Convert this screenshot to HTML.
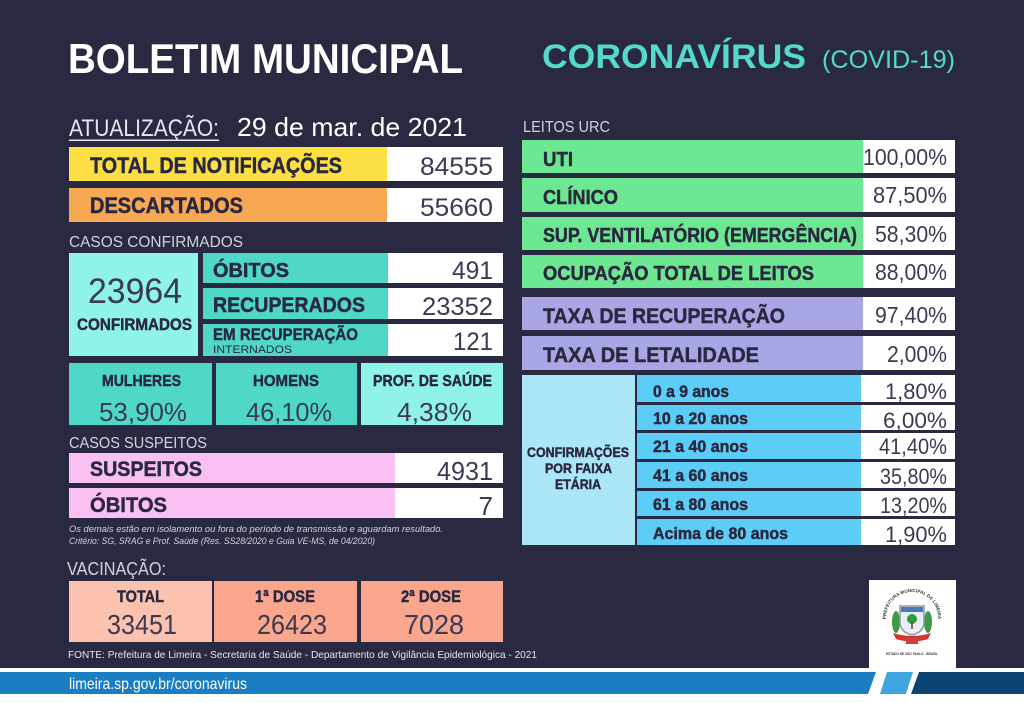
<!DOCTYPE html>
<html><head><meta charset="utf-8">
<style>html,body{margin:0;padding:0;background:#fff}svg{display:block}
.b{stroke:#29283f;stroke-width:0.45;paint-order:stroke}</style>
</head><body>
<svg width="1024" height="703" viewBox="0 0 1024 703" xmlns="http://www.w3.org/2000/svg" font-family="'Liberation Sans', sans-serif">
<rect width="1024" height="703" fill="#ffffff"/>
<rect width="1024" height="668" fill="#2a2942"/>

<!-- Header -->
<text x="68" y="73" font-size="42" font-weight="bold" fill="#ffffff" textLength="395" lengthAdjust="spacingAndGlyphs">BOLETIM MUNICIPAL</text>
<text x="542" y="68" font-size="34" font-weight="bold" fill="#55d9cb" textLength="264" lengthAdjust="spacingAndGlyphs">CORONAVÍRUS</text>
<text x="822" y="68" font-size="25" fill="#55d9cb" textLength="133" lengthAdjust="spacingAndGlyphs">(COVID-19)</text>

<!-- Atualização -->
<text x="69" y="136" font-size="24" fill="#e6e6ee" textLength="150" lengthAdjust="spacingAndGlyphs">ATUALIZAÇÃO:</text>
<rect x="69" y="139.5" width="150" height="1.5" fill="#e6e6ee"/>
<text x="237" y="136" font-size="26" fill="#ffffff" textLength="230" lengthAdjust="spacingAndGlyphs">29 de mar. de 2021</text>

<!-- Total / Descartados -->
<rect x="69" y="147" width="318" height="34" fill="#fcdf42"/>
<rect x="387" y="147" width="116" height="34" fill="#ffffff"/>
<text class="b" x="90" y="173" font-size="22" font-weight="bold" fill="#29283f" textLength="252" lengthAdjust="spacingAndGlyphs">TOTAL DE NOTIFICAÇÕES</text>
<text x="420" y="175" font-size="25" fill="#3a3a52" textLength="73" lengthAdjust="spacingAndGlyphs">84555</text>

<rect x="69" y="188" width="318" height="34" fill="#f8a853"/>
<rect x="387" y="188" width="116" height="34" fill="#ffffff"/>
<text class="b" x="90" y="213" font-size="22" font-weight="bold" fill="#29283f" textLength="153" lengthAdjust="spacingAndGlyphs">DESCARTADOS</text>
<text x="420" y="216" font-size="25" fill="#3a3a52" textLength="73" lengthAdjust="spacingAndGlyphs">55660</text>

<!-- Casos confirmados -->
<text x="69" y="247" font-size="16" fill="#d2d2dc" textLength="174" lengthAdjust="spacingAndGlyphs">CASOS CONFIRMADOS</text>
<rect x="69" y="253" width="129" height="103" fill="#8ff3ea"/>
<text x="88" y="303" font-size="35" fill="#3a3a52" textLength="94" lengthAdjust="spacingAndGlyphs">23964</text>
<text class="b" x="77" y="330" font-size="16.5" font-weight="bold" fill="#29283f" textLength="115" lengthAdjust="spacingAndGlyphs">CONFIRMADOS</text>

<rect x="203" y="253" width="185" height="30" fill="#4fd8c8"/>
<rect x="388" y="253" width="115" height="30" fill="#ffffff"/>
<text class="b" x="213" y="277" font-size="20" font-weight="bold" fill="#29283f" textLength="76" lengthAdjust="spacingAndGlyphs">ÓBITOS</text>
<text x="452" y="279" font-size="25" fill="#3a3a52" textLength="41" lengthAdjust="spacingAndGlyphs">491</text>

<rect x="203" y="288" width="185" height="31" fill="#4fd8c8"/>
<rect x="388" y="288" width="115" height="31" fill="#ffffff"/>
<text class="b" x="213" y="312" font-size="21" font-weight="bold" fill="#29283f" textLength="152" lengthAdjust="spacingAndGlyphs">RECUPERADOS</text>
<text x="422" y="315" font-size="25" fill="#3a3a52" textLength="71" lengthAdjust="spacingAndGlyphs">23352</text>

<rect x="203" y="324" width="185" height="32" fill="#4fd8c8"/>
<rect x="388" y="324" width="115" height="32" fill="#ffffff"/>
<text class="b" x="213" y="340" font-size="17" font-weight="bold" fill="#29283f" textLength="145" lengthAdjust="spacingAndGlyphs">EM RECUPERAÇÃO</text>
<text x="213" y="353" font-size="11" fill="#29283f" textLength="79" lengthAdjust="spacingAndGlyphs">INTERNADOS</text>
<text x="453" y="350" font-size="25" fill="#3a3a52" textLength="40" lengthAdjust="spacingAndGlyphs">121</text>

<!-- Gender / prof -->
<rect x="69" y="363" width="143" height="62" fill="#4fd8c8"/>
<rect x="216" y="363" width="141" height="62" fill="#4fd8c8"/>
<rect x="361" y="363" width="142" height="62" fill="#8ff3ea"/>
<text class="b" x="102" y="386" font-size="16" font-weight="bold" fill="#29283f" textLength="79" lengthAdjust="spacingAndGlyphs">MULHERES</text>
<text class="b" x="253" y="386" font-size="16" font-weight="bold" fill="#29283f" textLength="66" lengthAdjust="spacingAndGlyphs">HOMENS</text>
<text class="b" x="373" y="386" font-size="16" font-weight="bold" fill="#29283f" textLength="119" lengthAdjust="spacingAndGlyphs">PROF. DE SAÚDE</text>
<text x="99" y="421" font-size="26" fill="#3a3a52" textLength="88" lengthAdjust="spacingAndGlyphs">53,90%</text>
<text x="246" y="421" font-size="26" fill="#3a3a52" textLength="86" lengthAdjust="spacingAndGlyphs">46,10%</text>
<text x="397" y="421" font-size="26" fill="#3a3a52" textLength="75" lengthAdjust="spacingAndGlyphs">4,38%</text>

<!-- Casos suspeitos -->
<text x="69" y="448" font-size="16" fill="#d2d2dc" textLength="138" lengthAdjust="spacingAndGlyphs">CASOS SUSPEITOS</text>
<rect x="69" y="453" width="326" height="30" fill="#fbc0f3"/>
<rect x="395" y="453" width="108" height="30" fill="#ffffff"/>
<text class="b" x="90" y="476" font-size="21" font-weight="bold" fill="#29283f" textLength="112" lengthAdjust="spacingAndGlyphs">SUSPEITOS</text>
<text x="437" y="480" font-size="26" fill="#3a3a52" textLength="56" lengthAdjust="spacingAndGlyphs">4931</text>

<rect x="69" y="488" width="326" height="30" fill="#fbc0f3"/>
<rect x="395" y="488" width="108" height="30" fill="#ffffff"/>
<text class="b" x="90" y="512" font-size="21" font-weight="bold" fill="#29283f" textLength="77" lengthAdjust="spacingAndGlyphs">ÓBITOS</text>
<text x="493" y="515" font-size="26" fill="#3a3a52" text-anchor="end">7</text>

<text x="69" y="532" font-size="9.5" font-style="italic" fill="#d2d2dc" textLength="374" lengthAdjust="spacingAndGlyphs">Os demais estão em isolamento ou fora do período de transmissão e aguardam resultado.</text>
<text x="69" y="544" font-size="9.5" font-style="italic" fill="#d2d2dc" textLength="306" lengthAdjust="spacingAndGlyphs">Critério: SG, SRAG e Prof. Saúde (Res. SS28/2020 e Guia VE-MS, de 04/2020)</text>

<!-- Vacinação -->
<text x="67" y="575" font-size="18" fill="#d2d2dc" textLength="99" lengthAdjust="spacingAndGlyphs">VACINAÇÃO:</text>
<rect x="69" y="581" width="143" height="61" fill="#fcc2b0"/>
<rect x="214" y="581" width="143" height="61" fill="#f9a68d"/>
<rect x="361" y="581" width="142" height="61" fill="#f9a68d"/>
<text class="b" x="117" y="602" font-size="16.5" font-weight="bold" fill="#29283f" textLength="47" lengthAdjust="spacingAndGlyphs">TOTAL</text>
<text class="b" x="255" y="602" font-size="16.5" font-weight="bold" fill="#29283f" textLength="60" lengthAdjust="spacingAndGlyphs">1ª DOSE</text>
<text class="b" x="401" y="602" font-size="16.5" font-weight="bold" fill="#29283f" textLength="60" lengthAdjust="spacingAndGlyphs">2ª DOSE</text>
<text x="107" y="634" font-size="28" fill="#3a3a52" textLength="70" lengthAdjust="spacingAndGlyphs">33451</text>
<text x="257" y="634" font-size="28" fill="#3a3a52" textLength="70" lengthAdjust="spacingAndGlyphs">26423</text>
<text x="404" y="634" font-size="28" fill="#3a3a52" textLength="60" lengthAdjust="spacingAndGlyphs">7028</text>

<text x="68" y="658" font-size="10.5" fill="#e6e6ee" textLength="469" lengthAdjust="spacingAndGlyphs">FONTE: Prefeitura de Limeira - Secretaria de Saúde - Departamento de Vigilância Epidemiológica - 2021</text>

<!-- Right column: Leitos -->
<text x="523" y="132" font-size="16" fill="#d2d2dc" textLength="87" lengthAdjust="spacingAndGlyphs">LEITOS URC</text>

<rect x="522" y="140" width="341" height="33" fill="#6ee792"/>
<rect x="863" y="140" width="92" height="33" fill="#ffffff"/>
<text class="b" x="543" y="166" font-size="20" font-weight="bold" fill="#29283f" textLength="30" lengthAdjust="spacingAndGlyphs">UTI</text>
<text x="863" y="165" font-size="23" fill="#3a3a52" textLength="84" lengthAdjust="spacingAndGlyphs">100,00%</text>

<rect x="522" y="178" width="341" height="34" fill="#6ee792"/>
<rect x="863" y="178" width="92" height="34" fill="#ffffff"/>
<text class="b" x="543" y="204" font-size="20" font-weight="bold" fill="#29283f" textLength="75" lengthAdjust="spacingAndGlyphs">CLÍNICO</text>
<text x="873" y="203" font-size="23" fill="#3a3a52" textLength="74" lengthAdjust="spacingAndGlyphs">87,50%</text>

<rect x="522" y="217" width="341" height="33" fill="#6ee792"/>
<rect x="863" y="217" width="92" height="33" fill="#ffffff"/>
<text class="b" x="543" y="242" font-size="20" font-weight="bold" fill="#29283f" textLength="314" lengthAdjust="spacingAndGlyphs">SUP. VENTILATÓRIO (EMERGÊNCIA)</text>
<text x="875" y="242" font-size="23" fill="#3a3a52" textLength="72" lengthAdjust="spacingAndGlyphs">58,30%</text>

<rect x="522" y="255" width="341" height="33" fill="#6ee792"/>
<rect x="863" y="255" width="92" height="33" fill="#ffffff"/>
<text class="b" x="543" y="280" font-size="20" font-weight="bold" fill="#29283f" textLength="271" lengthAdjust="spacingAndGlyphs">OCUPAÇÃO TOTAL DE LEITOS</text>
<text x="875" y="280" font-size="23" fill="#3a3a52" textLength="72" lengthAdjust="spacingAndGlyphs">88,00%</text>

<rect x="522" y="297" width="341" height="33" fill="#a9a6e6"/>
<rect x="863" y="297" width="92" height="33" fill="#ffffff"/>
<text class="b" x="543" y="323" font-size="21" font-weight="bold" fill="#29283f" textLength="242" lengthAdjust="spacingAndGlyphs">TAXA DE RECUPERAÇÃO</text>
<text x="875" y="323" font-size="23" fill="#3a3a52" textLength="72" lengthAdjust="spacingAndGlyphs">97,40%</text>

<rect x="522" y="336" width="341" height="34" fill="#a9a6e6"/>
<rect x="863" y="336" width="92" height="34" fill="#ffffff"/>
<text class="b" x="543" y="362" font-size="21" font-weight="bold" fill="#29283f" textLength="216" lengthAdjust="spacingAndGlyphs">TAXA DE LETALIDADE</text>
<text x="887" y="362" font-size="23" fill="#3a3a52" textLength="60" lengthAdjust="spacingAndGlyphs">2,00%</text>

<!-- Faixa etária -->
<rect x="522" y="375" width="113" height="170" fill="#aae6f6"/>
<text class="b" x="527" y="457" font-size="13.5" font-weight="bold" fill="#29283f" textLength="102" lengthAdjust="spacingAndGlyphs">CONFIRMAÇÕES</text>
<text class="b" x="545" y="473" font-size="13.5" font-weight="bold" fill="#29283f" textLength="67" lengthAdjust="spacingAndGlyphs">POR FAIXA</text>
<text class="b" x="555" y="489" font-size="13.5" font-weight="bold" fill="#29283f" textLength="46" lengthAdjust="spacingAndGlyphs">ETÁRIA</text>

<rect x="637" y="375" width="224" height="27" fill="#5ccdf6"/>
<rect x="861" y="375" width="94" height="27" fill="#ffffff"/>
<rect x="637" y="405" width="224" height="25" fill="#5ccdf6"/>
<rect x="861" y="405" width="94" height="25" fill="#ffffff"/>
<rect x="637" y="433" width="224" height="26" fill="#5ccdf6"/>
<rect x="861" y="433" width="94" height="26" fill="#ffffff"/>
<rect x="637" y="462" width="224" height="26" fill="#5ccdf6"/>
<rect x="861" y="462" width="94" height="26" fill="#ffffff"/>
<rect x="637" y="491" width="224" height="25" fill="#5ccdf6"/>
<rect x="861" y="491" width="94" height="25" fill="#ffffff"/>
<rect x="637" y="519" width="224" height="26" fill="#5ccdf6"/>
<rect x="861" y="519" width="94" height="26" fill="#ffffff"/>

<g font-size="16.5" font-weight="bold" fill="#29283f">
<text class="b" x="653" y="397" textLength="76" lengthAdjust="spacingAndGlyphs">0 a 9 anos</text>
<text class="b" x="653" y="424" textLength="95" lengthAdjust="spacingAndGlyphs">10 a 20 anos</text>
<text class="b" x="653" y="452" textLength="95" lengthAdjust="spacingAndGlyphs">21 a 40 anos</text>
<text class="b" x="653" y="481" textLength="95" lengthAdjust="spacingAndGlyphs">41 a 60 anos</text>
<text class="b" x="653" y="510" textLength="95" lengthAdjust="spacingAndGlyphs">61 a 80 anos</text>
<text class="b" x="653" y="539" textLength="135" lengthAdjust="spacingAndGlyphs">Acima de 80 anos</text>
</g>
<g font-size="22" fill="#3a3a52">
<text x="885" y="399" textLength="62" lengthAdjust="spacingAndGlyphs">1,80%</text>
<text x="883" y="428" textLength="64" lengthAdjust="spacingAndGlyphs">6,00%</text>
<text x="879" y="454" textLength="68" lengthAdjust="spacingAndGlyphs">41,40%</text>
<text x="880" y="484" textLength="67" lengthAdjust="spacingAndGlyphs">35,80%</text>
<text x="880" y="513" textLength="67" lengthAdjust="spacingAndGlyphs">13,20%</text>
<text x="885" y="542" textLength="62" lengthAdjust="spacingAndGlyphs">1,90%</text>
</g>

<!-- Logo -->
<rect x="869" y="580" width="87" height="92" fill="#ffffff"/>
<defs><path id="arc" d="M 886 618 A 26 26 0 0 1 938 618"/></defs>
<text font-size="4.6" font-weight="bold" fill="#3a3a3a"><textPath href="#arc" startOffset="50%" text-anchor="middle">PREFEITURA MUNICIPAL DE LIMEIRA</textPath></text>
<ellipse cx="896" cy="622" rx="4" ry="11" fill="#3f9a45"/>
<ellipse cx="928" cy="622" rx="4" ry="11" fill="#3f9a45"/>
<path d="M900 606 h24 v16 q0 10 -12 13 q-12 -3 -12 -13 z" fill="#e9eef6" stroke="#8a97ab" stroke-width="1.5"/>
<rect x="901" y="607" width="22" height="5" fill="#4a78b8"/>
<circle cx="912" cy="619" r="5" fill="#2e9a3e"/>
<rect x="911.2" y="622" width="1.6" height="7" fill="#6b4a2b"/>
<path d="M893 633 q19 6 38 0 l-3 6 q-16 5 -32 0 z" fill="#d9302c"/>
<rect x="906" y="638" width="12" height="6" fill="#c8443b"/>
<text x="912" y="655" font-size="4" font-weight="bold" fill="#3a3a3a" text-anchor="middle" textLength="52" lengthAdjust="spacingAndGlyphs">ESTADO DE SÃO PAULO - BRASIL</text>

<!-- Bottom bar -->
<polygon points="0,672 876,672 868,694 0,694" fill="#1b7dc2"/>
<polygon points="887,672 913,672 906,694 880,694" fill="#3ea5e0"/>
<polygon points="919,672 1024,672 1024,694 911,694" fill="#0e4473"/>
<text x="69" y="689" font-size="16" fill="#ffffff" textLength="178" lengthAdjust="spacingAndGlyphs">limeira.sp.gov.br/coronavirus</text>
</svg>
</body></html>
